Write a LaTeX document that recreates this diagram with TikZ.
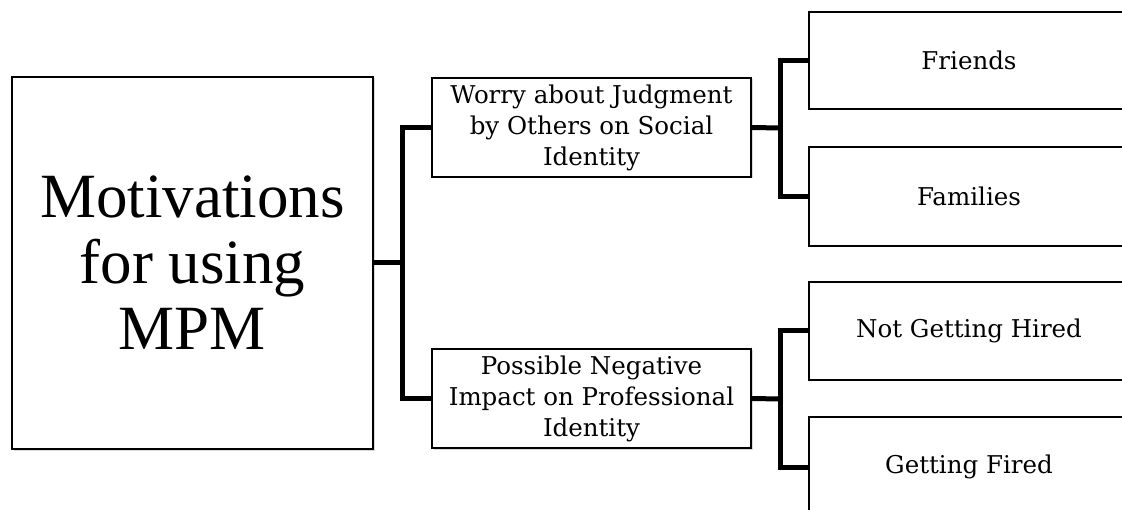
\documentclass[tikz,border=0pt]{standalone}
\usepackage{fontspec}
\setmainfont{Liberation Serif}
\newfontfamily\boxfont{DejaVu Serif}
\usetikzlibrary{shadows}
\tikzset{
  box/.style={draw, line width=1.5pt, fill=white, rectangle, inner sep=0pt,
    align=center, drop shadow={shadow xshift=1.5pt, shadow yshift=-1.5pt, opacity=0.3}},
  conn/.style={line width=5pt, line join=miter},
  small/.style={font=\boxfont\fontsize{24.5}{31}\selectfont},
}
\begin{document}
\begin{tikzpicture}[x=1pt, y=-1pt]
\useasboundingbox (0,0) rectangle (1122,510);
\clip (0,0) rectangle (1122,510);
% root
\node[box, minimum width=361pt, minimum height=372pt,
  font=\fontsize{63}{66}\selectfont] (root) at (192.5,263) {Motivations\\for using\\MPM};
% second level
\node[box, small, minimum width=319pt, minimum height=99pt] (m1) at (591.5,127.5)
  {Worry about Judgment\\by Others on Social\\Identity};
\node[box, small, minimum width=319pt, minimum height=99pt] (m2) at (591.5,398.5)
  {Possible Negative\\Impact on Professional\\Identity};
% third level
\node[box, small, minimum width=320pt, minimum height=97pt] (r1) at (969,60.5) {Friends};
\node[box, small, minimum width=320pt, minimum height=99pt] (r2) at (969,196.5) {Families};
\node[box, small, minimum width=320pt, minimum height=98pt] (r3) at (969,331) {Not Getting Hired};
\node[box, small, minimum width=320pt, minimum height=100pt] (r4) at (969,467) {Getting Fired};
% junctions
\coordinate (j1) at (402,263);
\coordinate (j2) at (780,128);
\coordinate (j3) at (780,399);
% connectors
\draw[conn] (root.east) -- (j1);
\draw[conn] (m1.west) -| (j1) |- (m2.west);
\draw[conn] (m1.east) -- (j2);
\draw[conn] (r1.west) -| (j2) |- (r2.west);
\draw[conn] (m2.east) -- (j3);
\draw[conn] (r3.west) -| (j3) |- (r4.west);
\end{tikzpicture}
\end{document}
